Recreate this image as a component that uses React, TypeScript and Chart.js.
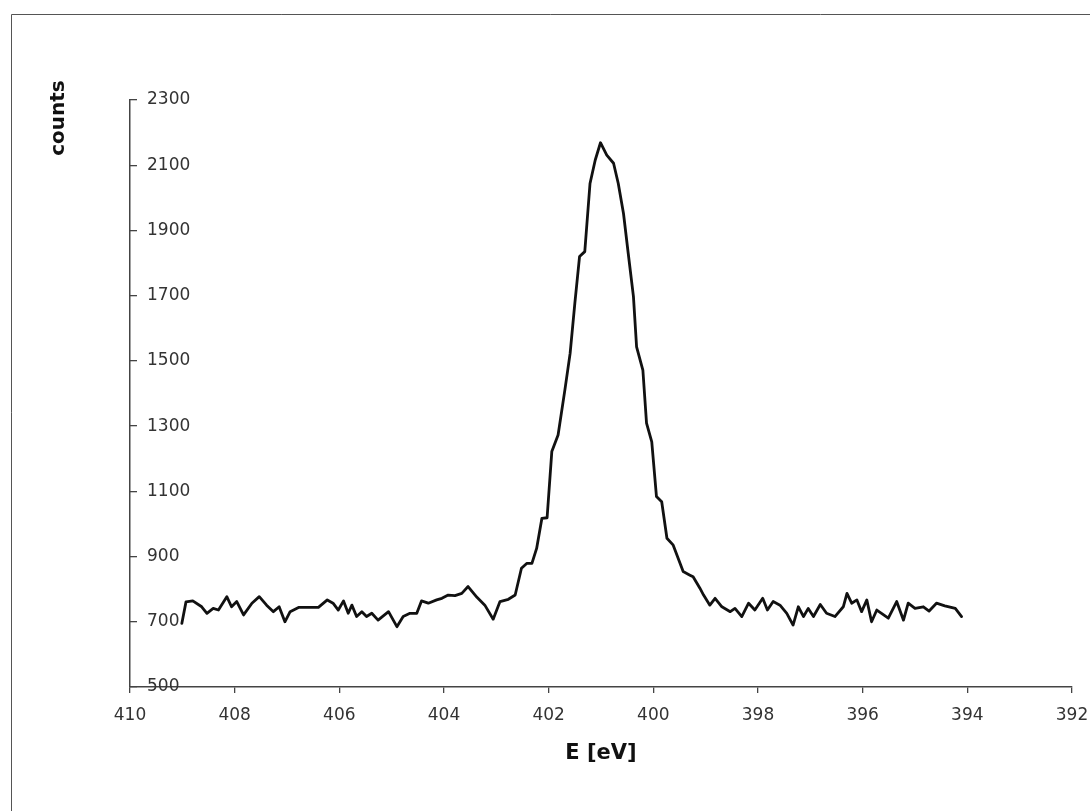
import React, { useEffect, useRef } from "react";
import { Chart, registerables } from "chart.js";

Chart.register(...registerables);

// Binding energy (eV) of each sample
const energies = [
  409.01, 408.93, 408.8, 408.63, 408.53, 408.41, 408.31, 408.15, 408.06, 407.96,
  407.83, 407.67, 407.53, 407.39, 407.26, 407.15, 407.04, 406.94, 406.78, 406.4,
  406.23, 406.12, 406.02, 405.92, 405.83, 405.76, 405.67, 405.57, 405.48, 405.38,
  405.26, 405.06, 404.9, 404.78, 404.65, 404.52, 404.43, 404.3, 404.14, 404.04,
  403.92, 403.79, 403.66, 403.54, 403.37, 403.22, 403.06, 402.93, 402.77, 402.64,
  402.52, 402.42, 402.32, 402.23, 402.13, 402.03, 401.94, 401.82, 401.69, 401.59,
  401.5, 401.41, 401.31, 401.21, 401.11, 401.01, 400.89, 400.76, 400.67, 400.57,
  400.48, 400.38, 400.32, 400.2, 400.13, 400.03, 399.94, 399.84, 399.74, 399.62,
  399.43, 399.3, 399.24, 399.11, 399.04, 398.92, 398.82, 398.69, 398.53, 398.44,
  398.31, 398.18, 398.06, 397.91, 397.82, 397.71, 397.58, 397.45, 397.33, 397.23,
  397.13, 397.04, 396.94, 396.81, 396.69, 396.53, 396.37, 396.3, 396.21, 396.11,
  396.02, 395.92, 395.83, 395.73, 395.64, 395.51, 395.35, 395.22, 395.13, 395.0,
  394.84, 394.73, 394.59, 394.43, 394.23, 394.11,
];

// Measured counts at each energy
const counts = [
  695, 761, 764, 746, 726, 741, 736, 777, 746, 762,
  721, 757, 777, 751, 731, 746, 700, 731, 744, 744,
  767, 757, 736, 764, 726, 751, 716, 731, 716, 726,
  705, 731, 685, 716, 726, 726, 764, 757, 767, 772,
  782, 780, 787, 808, 775, 751, 708, 762, 769, 782,
  864, 879, 879, 925, 1017, 1019, 1222, 1273, 1411, 1523,
  1676, 1820, 1835, 2044, 2116, 2169, 2131, 2106, 2044, 1952,
  1830, 1697, 1543, 1472, 1309, 1252, 1084, 1068, 956, 935,
  854, 843, 838, 803, 782, 751, 772, 746, 731, 741,
  716, 757, 736, 772, 736, 762, 751, 726, 690, 746,
  716, 741, 716, 753, 726, 716, 746, 787, 757, 767,
  731, 767, 700, 736, 726, 711, 762, 705, 757, 741,
  746, 733, 757, 749, 741, 716,
];

const xTickValues = [410, 408, 406, 404, 402, 400, 398, 396, 394, 392];
const yTickValues = [500, 700, 900, 1100, 1300, 1500, 1700, 1900, 2100, 2300];

const xTitle = "E [eV]";
const yTitle = "counts";

const framePlugin = {
  id: "frameAndTitle",
  beforeDraw(chart: any) {
    const ctx = chart.ctx;
    ctx.save();
    ctx.fillStyle = "#ffffff";
    ctx.fillRect(0, 0, chart.width, chart.height);
    ctx.strokeStyle = "#555555";
    ctx.lineWidth = 1;
    ctx.beginPath();
    ctx.moveTo(11.5, chart.height);
    ctx.lineTo(11.5, 14.5);
    ctx.lineTo(chart.width, 14.5);
    ctx.stroke();
    ctx.restore();
  },
  afterDraw(chart: any) {
    const ctx = chart.ctx;
    ctx.save();
    ctx.translate(59, 118);
    ctx.rotate(-Math.PI / 2);
    ctx.font = "bold 20px 'DejaVu Sans'";
    ctx.fillStyle = "#111111";
    ctx.textAlign = "center";
    ctx.textBaseline = "middle";
    ctx.fillText(yTitle, 0, 0);
    ctx.restore();
  },
};

export default function App() {
  const canvasRef = useRef<HTMLCanvasElement | null>(null);

  useEffect(() => {
    const canvas = canvasRef.current;
    if (!canvas) return;
    const points = energies.map((e, i) => ({ x: e, y: counts[i] }));
    const tickFont = { family: "'DejaVu Sans'", size: 17 };
    const chart = new Chart(canvas, {
      type: "line",
      data: {
        datasets: [
          {
            label: "N 1s",
            data: points,
            borderColor: "#111111",
            borderWidth: 2.8,
            pointRadius: 0,
            tension: 0,
            borderJoinStyle: "round",
            borderCapStyle: "round",
            fill: false,
          },
        ],
      },
      options: {
        responsive: false,
        animation: false,
        events: [],
        layout: { padding: { top: 100, right: 18, bottom: 0, left: 0 } },
        plugins: {
          legend: { display: false },
          tooltip: { enabled: false },
          title: { display: false },
        },
        scales: {
          x: {
            type: "linear",
            reverse: true,
            min: xTickValues[xTickValues.length - 1],
            max: xTickValues[0],
            afterBuildTicks: (scale: any) => {
              scale.ticks = xTickValues.map((v) => ({ value: v }));
            },
            afterFit: (scale: any) => {
              scale.height = 124;
              scale.paddingLeft = 0;
              scale.paddingRight = 0;
            },
            ticks: {
              font: tickFont,
              color: "#333333",
              padding: 12,
              maxRotation: 0,
              autoSkip: false,
              callback: (v: any) => String(v),
            },
            grid: {
              display: true,
              drawOnChartArea: false,
              drawTicks: true,
              tickLength: 6,
              color: "#444444",
              lineWidth: 1.3,
            },
            border: { display: true, color: "#444444", width: 1.5 },
            title: {
              display: true,
              text: xTitle,
              color: "#111111",
              font: { family: "'DejaVu Sans'", size: 21, weight: "bold" },
              padding: { top: 0, bottom: 45 },
            },
          },
          y: {
            type: "linear",
            min: yTickValues[0],
            max: yTickValues[yTickValues.length - 1],
            afterBuildTicks: (scale: any) => {
              scale.ticks = yTickValues.map((v) => ({ value: v }));
            },
            afterFit: (scale: any) => {
              scale.width = 130;
            },
            ticks: {
              mirror: true,
              padding: 17,
              font: tickFont,
              color: "#333333",
              autoSkip: false,
              callback: (v: any) => String(v),
            },
            grid: {
              display: true,
              drawOnChartArea: false,
              drawTicks: true,
              tickLength: -7,
              color: "#444444",
              lineWidth: 1.3,
            },
            border: { display: true, color: "#444444", width: 1.5 },
            title: { display: false },
          },
        },
      },
      plugins: [framePlugin],
    } as any);
    return () => chart.destroy();
  }, []);

  return (
    <div
      style={{
        position: "absolute",
        left: 0,
        top: 0,
        width: 1090,
        height: 811,
        background: "#ffffff",
      }}
    >
      <canvas
        ref={canvasRef}
        width={1090}
        height={811}
        style={{ display: "block", width: 1090, height: 811 }}
      />
    </div>
  );
}
